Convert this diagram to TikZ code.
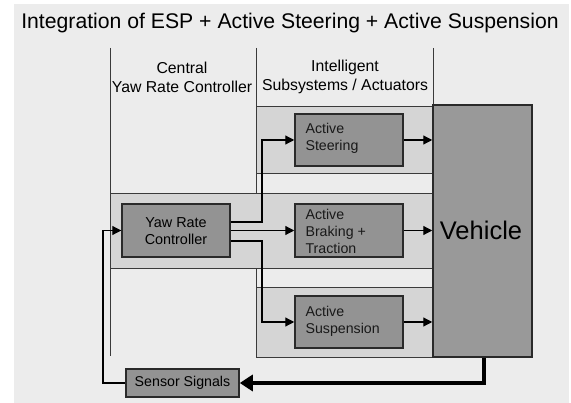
\documentclass[tikz,border=0pt]{standalone}
\usepackage{fontspec}
\setmainfont{Liberation Sans}
\usetikzlibrary{arrows.meta}
\definecolor{bgc}{HTML}{ECECEC}
\definecolor{bandc}{HTML}{D5D5D5}
\definecolor{boxc}{HTML}{939393}
\definecolor{vehc}{HTML}{999999}
\definecolor{edgec}{HTML}{2A2A2A}
\definecolor{linec}{HTML}{3A3A3A}
\tikzset{
  band/.style={fill=bandc, draw=linec, line width=0.8pt},
  unit/.style={fill=boxc, draw=edgec, line width=1.5pt},
  sep/.style={draw=linec, line width=0.8pt},
  conn/.style={draw=black, line width=1.2pt, -{Triangle[length=9pt,width=9pt]}},
  plain/.style={draw=black, line width=1.2pt},
  thick/.style={draw=black, line width=4pt, -{Triangle[length=13pt,width=16pt]}},
  boxtext/.style={font=\fontsize{14.2}{17.2}\selectfont, text=black!90, align=left, anchor=west}
}
\begin{document}
\begin{tikzpicture}[x=1pt,y=-1pt]
\useasboundingbox (0,0) rectangle (571,403);
\fill[white] (0,0) rectangle (571,403);
\fill[bgc] (14,4) rectangle (569,403);
% title
\node[font=\fontsize{21.2}{23}\selectfont] (title) at (290,23.5) {Integration of ESP + Active Steering + Active Suspension};
% header labels
\node[font=\fontsize{15.8}{19}\selectfont, align=center] (hcentral) at (182,77) {Central\\Yaw Rate Controller};
\node[font=\fontsize{15.8}{19}\selectfont, align=center] (hintel) at (345,77) {Intelligent\\Subsystems / Actuators};
% separator lines
\coordinate (s1t) at (110,48); \coordinate (s1b) at (110,356);
\coordinate (s2t) at (256,48); \coordinate (s2b) at (256,300);
\coordinate (s3t) at (433,48); \coordinate (s3b) at (433,110);
\draw[sep] (s1t) -- (s1b);
\draw[sep] (s2t) -- (s2b);
\draw[sep] (s3t) -- (s3b);
% bands
\draw[band] (256,106) rectangle (433,173);
\draw[band] (110,193) rectangle (433,268);
\draw[band] (256,287) rectangle (433,357);
% units
\node[unit, minimum width=108pt, minimum height=53pt, inner sep=0pt] (yaw) at (176,230.5) {};
\node[font=\fontsize{14.4}{17}\selectfont, align=center] (yawt) at (176,231.5) {Yaw Rate\\Controller};
\node[unit, minimum width=108pt, minimum height=52pt, inner sep=0pt] (steer) at (349,140) {};
\node[boxtext] (steert) at (302,138.5) {Active\\Steering};
\node[unit, minimum width=108pt, minimum height=53pt, inner sep=0pt] (brake) at (349,230.5) {};
\node[boxtext] (braket) at (302,231.5) {Active\\Braking +\\Traction};
\node[unit, minimum width=108pt, minimum height=52pt, inner sep=0pt] (susp) at (349,322) {};
\node[boxtext] (suspt) at (302,321) {Active\\Suspension};
\node[unit, fill=vehc, minimum width=99pt, minimum height=252pt, inner sep=0pt] (veh) at (482.5,231) {};
\node[font=\fontsize{25.5}{28}\selectfont] (veht) at (481,230) {Vehicle};
\node[unit, minimum width=113pt, minimum height=28pt, inner sep=0pt, font=\fontsize{14.2}{16}\selectfont] (sens) at (182.5,383) {Sensor Signals};
% connectors
\coordinate (j1) at (262,222);
\coordinate (j2) at (262,241);
\coordinate (fb) at (103,383);
\coordinate (vb) at (484,383);
\draw[conn] (yaw.east |- j1) -- (j1) |- (steer.west);
\draw[conn] (yaw.east) -- (brake.west);
\draw[conn] (yaw.east |- j2) -- (j2) |- (susp.west);
\draw[conn] (steer.east) -- (steer.east -| veh.west);
\draw[conn] (brake.east) -- (brake.east -| veh.west);
\draw[conn] (susp.east) -- (susp.east -| veh.west);
\draw[thick] (veh.south -| vb) -- (vb) -- (sens.east);
\draw[plain] (sens.west) -- (fb) |- (yaw.west);
\draw[conn] (fb |- yaw.west) -- (yaw.west);
\end{tikzpicture}
\end{document}
